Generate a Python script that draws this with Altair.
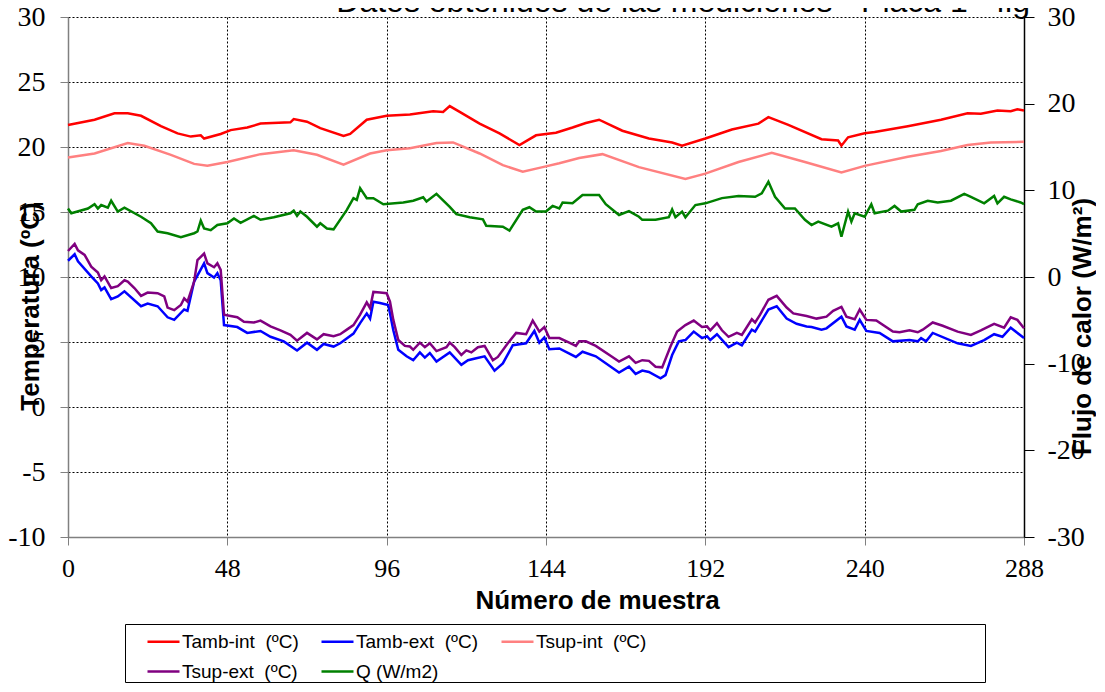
import altair as alt
import pandas as pd

# ---- data (sample number, value) ----
tamb_int = [(0,21.7),(8,22.1),(14,22.6),(18,22.6),(22,22.4),(28,21.6),(33,21.05),(37,20.8),(40,20.9),(41,20.65),
            (46,21.0),(49,21.3),(54,21.5),(58,21.8),(67,21.9),(68,22.15),(72,21.95),(76,21.45),(83,20.85),(85,21.0),
            (90,22.1),(96,22.4),(103,22.5),(110,22.75),(113,22.7),(115,23.15),(118,22.7),(124,21.8),(130,21.05),(136,20.15),
            (141,20.9),(147,21.1),(152,21.5),(156,21.85),(160,22.1),(167,21.25),(175,20.65),(182,20.35),(185,20.1),(192,20.65),
            (200,21.35),(208,21.8),(211,22.3),(217,21.7),(227,20.6),(232,20.5),(233,20.1),(235,20.75),(240,21.05),(243,21.15),
            (253,21.6),(263,22.1),(271,22.6),(275,22.55),(280,22.8),(284,22.75),(286,22.9),(288,22.8)]

tsup_int = [(0,19.2),(8,19.5),(18,20.3),(23,20.1),(31,19.4),(38,18.7),(42,18.55),(48,18.85),(58,19.45),(68,19.75),
            (75,19.4),(83,18.65),(91,19.5),(96,19.75),(103,19.9),(111,20.3),(116,20.35),(124,19.5),(131,18.6),(137,18.1),
            (143,18.45),(148,18.75),(154,19.15),(161,19.45),(172,18.45),(186,17.55),(192,17.95),(202,18.85),(212,19.55),(222,18.85),
            (233,18.05),(240,18.55),(253,19.25),(263,19.7),(271,20.15),(278,20.35),(288,20.4)]

q_flujo = [(0,7.9),(1,7.35),(6,7.9),(8,8.4),(9,7.9),(10,8.3),(12,8.0),(13,8.8),(15,7.55),(17,8.0),(22,6.95),(25,6.2),
           (27,5.25),(30,5.05),(34,4.6),(38,5.05),(39,5.25),(40,6.5),(41,5.6),(43,5.4),(45,6.0),(48,6.2),(50,6.75),(52,6.25),
           (56,7.05),(58,6.6),(62,6.9),(67,7.35),(68,7.65),(69,7.05),(70,7.55),(72,6.95),(75,5.8),(76,6.2),(78,5.6),(80,5.5),
           (84,7.75),(86,9.1),(87,8.9),(88,10.25),(90,9.1),(92,9.1),(95,8.4),(101,8.6),(104,8.8),(107,9.2),(108,8.7),(111,9.6),
           (115,8.1),(117,7.25),(121,6.9),(125,6.65),(126,5.9),(131,5.8),(133,5.35),(137,7.75),(139,8.05),(141,7.55),(144,7.55),
           (146,8.2),(148,7.9),(149,8.6),(152,8.5),(155,9.45),(160,9.45),(162,8.4),(166,7.15),(169,7.6),(172,6.95),(173,6.6),
           (177,6.6),(181,6.9),(182,7.8),(183,6.9),(185,7.55),(186,6.9),(189,8.3),(192,8.5),(197,9.1),(202,9.35),(207,9.25),
           (209,9.65),(211,11.0),(213,9.25),(216,7.9),(219,7.9),(222,6.6),(224,6.0),(226,6.4),(230,5.8),(232,6.2),(233,4.65),
           (235,7.55),(236,6.4),(237,7.35),(240,6.95),(242,8.4),(243,7.35),(247,7.65),(249,8.2),(251,7.55),(255,7.75),(256,8.4),
           (259,8.8),(262,8.6),(266,8.8),(270,9.6),(272,9.25),(276,8.5),(279,9.35),(280,8.5),(282,9.25),(284,8.95),(287,8.6),(288,8.4)]

tsup_ext = [(0,12.0),(2,12.55),(3,12.05),(5,11.7),(7,10.8),(9,10.35),(10,9.75),(11,10.05),(13,9.15),(15,9.3),(17,9.75),
            (18,9.65),(20,9.15),(22,8.55),(24,8.8),(27,8.75),(29,8.5),(30,7.65),(32,7.45),(34,7.85),(35,8.35),(36,8.1),(38,9.65),
            (39,11.3),(41,11.8),(42,11.05),(44,10.75),(45,11.05),(46,10.55),(47,7.1),(49,7.0),(51,6.9),(53,6.55),(56,6.5),
            (58,6.65),(61,6.2),(64,5.9),(67,5.55),(69,5.1),(72,5.7),(75,5.2),(77,5.6),(80,5.45),(82,5.6),(84,5.95),(86,6.3),
            (88,7.1),(90,8.05),(91,7.6),(92,8.85),(94,8.8),(96,8.75),(97,8.1),(98,6.7),(99.5,5.15),(101.5,4.7),(103,4.65),
            (104,4.4),(106,4.95),(107.5,4.6),(109,4.9),(111,4.3),(114,4.6),(115,4.95),(116.5,4.6),(118.5,4.0),(120,4.35),
            (121.5,4.2),(123.5,4.6),(125.5,4.7),(128,3.6),(129.5,3.85),(132.5,4.9),(135,5.7),(138,5.6),(140,6.65),(142,5.8),
            (143.5,6.15),(145,5.3),(148,5.3),(151,4.95),(153,4.7),(154,5.05),(156,5.05),(159,4.7),(164,3.85),(166,3.5),(169,3.9),
            (171,3.4),(173,3.6),(175,3.55),(177,3.1),(179,3.05),(181.5,4.65),(183.5,5.8),(186,6.3),(188.5,6.65),(191,6.15),
            (192.5,6.2),(193.5,5.9),(195.5,6.45),(197,5.9),(199,5.4),(201.5,5.7),(203,5.55),(206,6.75),(207,6.5),(208.5,7.1),
            (211,8.25),(213.5,8.55),(216.5,7.65),(218.5,7.2),(222.5,7.0),(225.5,6.8),(228.5,6.95),(230.5,7.4),(233,7.7),
            (234.5,6.95),(237,6.75),(238.5,7.5),(240.5,6.7),(243.5,6.65),(248.5,5.8),(250.5,5.75),(253.5,5.9),(256,5.75),
            (257.5,5.95),(260.5,6.5),(263.5,6.25),(268,5.8),(272,5.55),(275,5.9),(279,6.4),(282,6.1),(284,6.9),(286,6.7),(288,6.05)]

tamb_ext = [(0,11.25),(2,11.75),(3,11.2),(7,10.05),(9,9.5),(10,9.0),(11,9.2),(13,8.3),(15,8.5),(17,8.9),(22,7.75),(24,7.95),
            (27,7.75),(30,6.9),(32,6.7),(35,7.5),(36,7.4),(38,9.65),(41,11.05),(42,10.3),(44,9.95),(45,10.3),(46,9.75),(47,6.3),
            (51,6.15),(54,5.7),(58,5.85),(61,5.4),(65,5.05),(69,4.35),(72,4.95),(75,4.4),(77,4.85),(80,4.65),(82,4.9),(86,5.65),
            (88,6.45),(90,7.2),(91,6.8),(92,8.1),(94,8.0),(96.5,7.85),(98,5.9),(99.5,4.4),(102,3.9),(104,3.6),(106,4.2),
            (107.5,3.8),(109,4.15),(111,3.5),(115,4.2),(118.5,3.25),(120.5,3.6),(123,3.75),(125.5,3.9),(128.5,2.8),(131,3.35),
            (134,4.75),(138,4.9),(140.5,5.85),(142,4.95),(143.5,5.35),(145,4.45),(148,4.5),(153,3.85),(155,4.25),(159,3.9),
            (166,2.65),(169,3.1),(171,2.55),(173,2.8),(175,2.7),(178.5,2.2),(180,2.45),(182,4.0),(184,5.05),(186,5.15),
            (188.5,5.8),(191,5.3),(192.5,5.45),(193.5,5.15),(195.5,5.6),(199,4.6),(201.5,4.95),(203,4.75),(206,5.95),(207,5.8),
            (211,7.5),(213.5,7.75),(216.5,6.8),(219.5,6.4),(222.5,6.2),(224,6.15),(227,5.95),(228.5,6.05),(233,6.95),
            (234.5,6.2),(237,5.95),(238.5,6.7),(240.5,5.85),(244.5,5.7),(248.5,5.05),(253.5,5.15),(256,5.05),(257,5.3),
            (258.5,5.05),(260.5,5.7),(268,4.9),(272,4.7),(276,5.15),(279,5.6),(281.5,5.4),(284,6.1),(288,5.3)]

NB = "\u00a0"
name_tamb_int = "Tamb-int" + NB * 2 + "(ºC)"
name_tamb_ext = "Tamb-ext" + NB * 2 + "(ºC)"
# trailing blanks (kept by a zero-width end mark) widen the legend frame to the reference's width
name_tsup_int = "Tsup-int" + NB * 2 + "(ºC)" + NB * 64 + "\u200b"
name_tsup_ext = "Tsup-ext" + NB * 2 + "(ºC)"
name_q = "Q (W/m2)"

# legend fills column by column (2 rows): order chosen so rows read like the reference
legend_order = [name_tamb_int, name_tsup_ext, name_tamb_ext, name_q, name_tsup_int]
legend_colors = ["#FF0000", "#800080", "#0000FF", "#008000", "#FF8080"]

series_data = [(name_tamb_int, tamb_int, "T"), (name_tamb_ext, tamb_ext, "T"), (name_tsup_int, tsup_int, "T"),
               (name_tsup_ext, tsup_ext, "T"), (name_q, q_flujo, "Q")]

x_ticks = [0, 48, 96, 144, 192, 240, 288]
y_left_ticks = [-10, -5, 0, 5, 10, 15, 20, 25, 30]
y_right_ticks = [-30, -20, -10, 0, 10, 20, 30]

rows = []
for name, pts, ax in series_data:
    for m, v in pts:
        rows.append({"muestra": m, "valor": v, "serie": name, "eje": ax})
df = pd.DataFrame(rows)

plain_label = "'' + datum.value"

x_enc = alt.X(
    "muestra:Q",
    scale=alt.Scale(domain=[0, 288], nice=False, zero=False),
    axis=alt.Axis(
        values=x_ticks, grid=True, gridColor="#000000", gridDash=[2, 2], gridWidth=1,
        domainColor="#808080", domainWidth=1.5, tickColor="#808080", tickSize=8,
        labelFont="Liberation Serif", labelFontSize=26, labelColor="black", labelPadding=10,
        labelFlush=False, labelOverlap=False, labelExpr=plain_label,
        title="Número de muestra", titleFont="Liberation Sans", titleFontSize=26,
        titleFontWeight="bold", titleColor="black", titleX=529, titleY=63,
        titleBaseline="middle", titleAlign="center",
    ),
)

color_enc = alt.Color(
    "serie:N",
    scale=alt.Scale(domain=legend_order, range=legend_colors),
    legend=alt.Legend(
        orient="none", legendX=57, legendY=607, columns=3, title=None,
        symbolType="stroke", symbolSize=1024, symbolStrokeWidth=2.5, symbolOffset=21,
        labelFont="Liberation Sans", labelFontSize=19, labelColor="black", labelOffset=1,
        labelLimit=1000, rowPadding=2, columnPadding=0, padding=0,
        strokeColor="black",
    ),
)

temp = alt.Chart(df).transform_filter(alt.datum.eje == "T").mark_line(strokeWidth=2.5).encode(
    x=x_enc,
    y=alt.Y(
        "valor:Q",
        scale=alt.Scale(domain=[-10, 30], nice=False, zero=False),
        axis=alt.Axis(
            orient="left", values=y_left_ticks, grid=True, gridColor="#000000", gridDash=[2, 2],
            gridWidth=1, domainColor="#808080", domainWidth=1.5, tickColor="#808080", tickSize=8,
            labelFont="Liberation Serif", labelFontSize=28, labelColor="black", labelPadding=15,
            labelFlush=False, labelOverlap=False, labelExpr=plain_label,
            title="Temperatura (ºC)", titleFont="Liberation Sans", titleFontSize=26,
            titleFontWeight="bold", titleColor="black", titleX=-38, titleY=289,
            titleAngle=270, titleBaseline="middle", titleAlign="center",
        ),
    ),
    color=color_enc,
)

flujo = alt.Chart(df).transform_filter(alt.datum.eje == "Q").mark_line(strokeWidth=2.5).encode(
    x=x_enc,
    y=alt.Y(
        "valor:Q",
        scale=alt.Scale(domain=[-30, 30], nice=False, zero=False),
        axis=alt.Axis(
            orient="right", values=y_right_ticks, grid=False,
            domainColor="#000000", domainWidth=1.5, tickColor="#000000", tickSize=10,
            labelFont="Liberation Serif", labelFontSize=28, labelColor="black", labelPadding=13,
            labelFlush=False, labelOverlap=False, labelExpr=plain_label,
            title="Flujo de calor (W/m²)", titleFont="Liberation Sans", titleFontSize=26,
            titleFontWeight="bold", titleColor="black", titleX=58, titleY=309,
            titleAngle=270, titleBaseline="middle", titleAlign="center",
        ),
    ),
    color=color_enc,
)

chart = (
    alt.layer(temp, flujo)
    .resolve_scale(y="independent")
    .properties(
        width=956, height=520,
        autosize=alt.AutoSizeParams(type="none"),
        padding={"left": 60, "top": 9, "right": 72, "bottom": 147},
        title=alt.TitleParams(
            text="Datos obtenidos de las mediciones - Placa 1 - fig",
            font="Liberation Sans", fontSize=32, fontWeight="normal", color="black",
            anchor="end", frame="group", orient="top", baseline="alphabetic",
            offset=-41, dx=6,
        ),
    )
    .configure_view(stroke=None)
)

chart.save("out.html", embed_options={"renderer": "svg", "actions": False})
